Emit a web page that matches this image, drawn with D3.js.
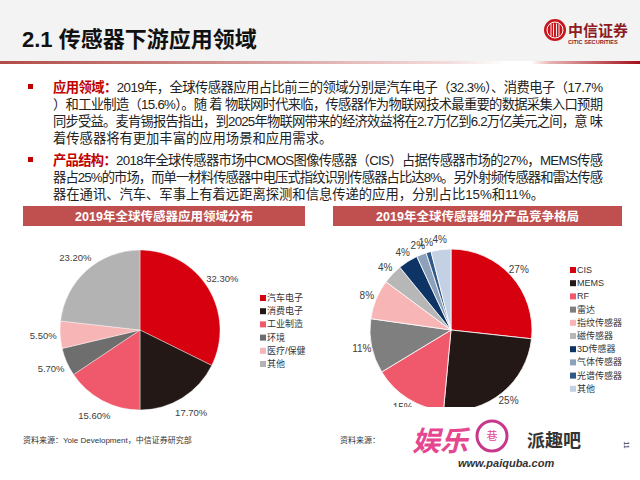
<!DOCTYPE html>
<html><head><meta charset="utf-8">
<script src="https://cdn.jsdelivr.net/npm/d3@7"></script>
<style>
html,body{margin:0;padding:0;background:#fff;}
svg{display:block;font-family:"Liberation Sans","Noto Sans CJK SC",sans-serif;}
</style></head>
<body>
<svg id="c" width="640" height="480"></svg>
<script>
// ---------- data ----------
const pageTitle = "2.1 传感器下游应用领域";
const para1 = [
  {label:"应用领域：", text:"2019年，全球传感器应用占比前三的领域分别是汽车电子（32.3%）、消费电子（17.7%", full:true},
  {label:"", text:"）和工业制造（15.6%）。随 着 物联网时代来临，传感器作为物联网技术最重要的数据采集入口预期", full:true},
  {label:"", text:"同步受益。麦肯锡报告指出，到2025年物联网带来的经济效益将在2.7万亿到6.2万亿美元之间，意 味", full:true},
  {label:"", text:"着传感器将有更加丰富的应用场景和应用需求。", full:false}
];
const para2 = [
  {label:"产品结构：", text:"2018年全球传感器市场中CMOS图像传感器（CIS）占据传感器市场的27%，MEMS传感", full:true},
  {label:"", text:"器占25%的市场，而单一材料传感器中电压式指纹识别传感器占比达8%。另外射频传感器和雷达传感", full:true},
  {label:"", text:"器在通讯、汽车、军事上有着远距离探测和信息传递的应用，分别占比15%和11%。", full:false}
];
const leftTitle = "2019年全球传感器应用领域分布";
const leftCategories = ["汽车电子","消费电子","工业制造","环境","医疗/保健","其他"];
const leftValues = [32.3, 17.7, 15.6, 5.7, 5.5, 23.2];
const leftColors = ["#d6000f","#231815","#f0596b","#6e6e6e","#f8b5b5","#b3b3b3"];
const rightTitle = "2019年全球传感器细分产品竞争格局";
const rightCategories = ["CIS","MEMS","RF","雷达","指纹传感器","磁传感器","3D传感器","气体传感器","光谱传感器","其他"];
const rightValues = [27, 25, 15, 11, 8, 4, 4, 2, 1, 4];
const rightColors = ["#d6000f","#231815","#f0596b","#7f7f7f","#f8b5b5","#b7b7b7","#0d3465","#8ea1bb","#2f5a87","#c4d1e4"];
const leftSource = "资料来源：Yole Development，中信证券研究部";
const rightSource = "资料来源：";

const svg = d3.select("#c");

// ---------- header ----------
svg.append("rect").attr("x",0).attr("y",0).attr("width",640).attr("height",62).attr("fill","#f3f3f3");
const defs = svg.append("defs");
const g1 = defs.append("linearGradient").attr("id","hl").attr("x1","0%").attr("x2","100%");
[["0%","#b24b47"],["35%","#d09390"],["70%","#f3dcdc"],["79%","#ffffff"],["83%","#ffffff"],["86%","#e7b3b3"],["100%","#a30f18"]]
  .forEach(s=>g1.append("stop").attr("offset",s[0]).attr("stop-color",s[1]));
svg.append("rect").attr("x",0).attr("y",61).attr("width",640).attr("height",3).attr("fill","url(#hl)");

svg.append("text").attr("x",22).attr("y",47).attr("font-size",22).attr("font-weight","bold")
  .attr("fill","#111").text(pageTitle);

// logo
const logo = svg.append("g");
logo.append("circle").attr("cx",555).attr("cy",30).attr("r",11).attr("fill","#c8161d");
logo.append("circle").attr("cx",555).attr("cy",30).attr("r",8).attr("fill","none").attr("stroke","#fff").attr("stroke-width",1);
[-4,-1.5,1.5,4].forEach(dx=>logo.append("line").attr("x1",555+dx).attr("x2",555+dx).attr("y1",23.5).attr("y2",36.5).attr("stroke","#fff").attr("stroke-width",0.9));
logo.append("text").attr("x",568).attr("y",36).attr("font-size",15).attr("font-weight","bold").attr("fill","#8e1b1f").text("中信证券");
logo.append("text").attr("x",568).attr("y",44).attr("font-size",5.6).attr("font-weight","bold").attr("fill","#8e1b1f").text("CITIC SECURITIES");

// ---------- paragraphs ----------
function drawPara(lines, y0){
  svg.append("rect").attr("x",28).attr("y",y0-3).attr("width",5).attr("height",5).attr("fill","#c00000");
  lines.forEach((ln,i)=>{
    const t = svg.append("text").attr("x",53).attr("y",y0+i*17+5).attr("font-size",13.3).attr("fill","#222");
    if(ln.full) t.attr("textLength",550).attr("lengthAdjust","spacing");
    if(ln.label) t.append("tspan").attr("fill","#c00000").attr("font-weight","bold").text(ln.label);
    t.append("tspan").text(ln.text);
  });
}
drawPara(para1, 87);
drawPara(para2, 160);

// ---------- chart header bars ----------
function bar(x,w,title){
  svg.append("rect").attr("x",x).attr("y",206).attr("width",w).attr("height",20).attr("fill","#c04f50");
  svg.append("text").attr("x",x+w/2).attr("y",221).attr("text-anchor","middle").attr("font-size",12.5)
    .attr("font-weight","bold").attr("fill","#fff").text(title);
}
bar(23,282,leftTitle);
bar(333,289,rightTitle);

// ---------- pies ----------
function drawPie(cx,cy,r,values,colors,labelR,fmt,fs,strokeW){
  const pie = d3.pie().sort(null).value(d=>d);
  const arcs = pie(values);
  const arc = d3.arc().innerRadius(0).outerRadius(r);
  const lab = d3.arc().innerRadius(labelR).outerRadius(labelR);
  const g = svg.append("g").attr("transform",`translate(${cx},${cy})`);
  g.selectAll("path").data(arcs).join("path").attr("d",arc)
    .attr("fill",(d,i)=>colors[i]).attr("stroke","#fff").attr("stroke-width",strokeW);
  g.selectAll("text").data(arcs).join("text")
    .attr("transform",d=>`translate(${lab.centroid(d)})`)
    .attr("text-anchor","middle").attr("dominant-baseline","central")
    .attr("font-size",fs).attr("fill","#404040").text(d=>fmt(d.data));
}
drawPie(140,330,80,leftValues,leftColors,97,v=>v.toFixed(2)+"%",9.5,0.4);
drawPie(451,330,81,rightValues,rightColors,91,v=>v+"%",10,0.8);

// ---------- legends ----------
function legend(x,y0,step,cats,colors){
  const ys = d3.scaleLinear().domain([0,1]).range([y0,y0+step]);
  const g = svg.append("g");
  cats.forEach((c,i)=>{
    g.append("rect").attr("x",x).attr("y",ys(i)-3).attr("width",6).attr("height",6).attr("fill",colors[i]);
    g.append("text").attr("x",x+7).attr("y",ys(i)).attr("dominant-baseline","central")
      .attr("font-size",9).attr("fill","#333").text(c);
  });
}
legend(260,298,13.2,leftCategories,leftColors);
legend(570,270,13.2,rightCategories,rightColors);

// ---------- sources ----------
svg.append("text").attr("x",23).attr("y",443).attr("font-size",8).attr("fill","#333").text(leftSource);
svg.append("text").attr("x",340).attr("y",443).attr("font-size",8).attr("fill","#333").text(rightSource);

// ---------- watermark ----------
svg.append("rect").attr("x",378).attr("y",407).attr("width",245).attr("height",68).attr("fill","#fff");
const wm = svg.append("g");
wm.append("text").attr("x",412).attr("y",451).attr("font-size",28).attr("font-weight","bold").attr("font-style","italic")
  .attr("fill","#e6468f").text("娱乐");
wm.append("circle").attr("cx",492).attr("cy",436).attr("r",15).attr("fill","none").attr("stroke","#c8378a").attr("stroke-width",3);
wm.append("text").attr("x",492).attr("y",440).attr("text-anchor","middle").attr("font-size",11).attr("fill","#e6468f").text("巷");
wm.append("text").attr("x",527).attr("y",447).attr("font-size",18).attr("font-weight","bold").attr("fill","#333").text("派趣吧");
wm.append("text").attr("x",458).attr("y",467).attr("font-size",11).attr("font-weight","bold").attr("font-style","italic")
  .attr("fill","#333").text("www.paiquba.com");
svg.append("text").attr("transform","translate(624,445) rotate(90)").attr("font-size",7).attr("fill","#333")
  .attr("text-anchor","middle").text("11");
</script>
</body></html>
